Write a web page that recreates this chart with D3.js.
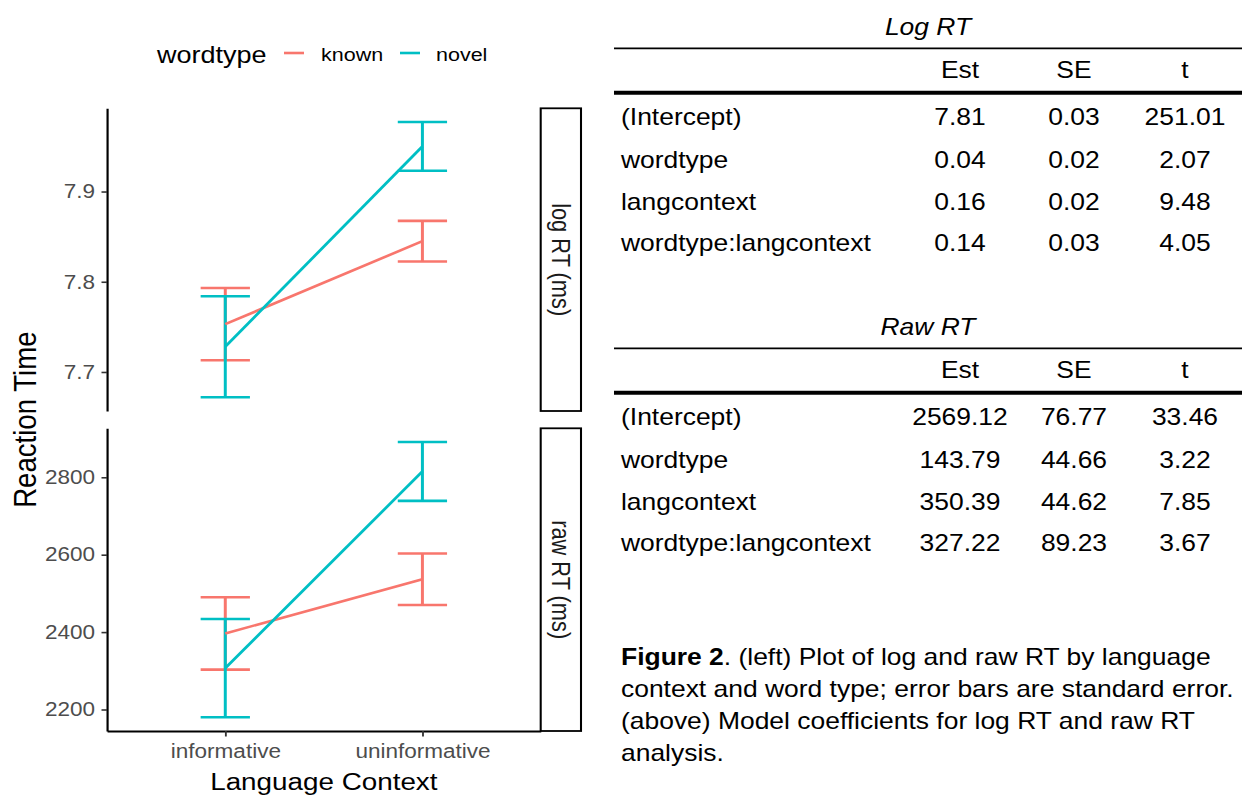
<!DOCTYPE html>
<html>
<head>
<style>
  body { margin: 0; background: #fff; }
  svg text { font-family: "Liberation Sans", Arial, sans-serif; }
</style>
</head>
<body>
<svg width="1242" height="797"></svg>
<script src="https://d3js.org/d3.v7.min.js"></script>
<script>
// ---- data ----
var contexts = ["informative", "uninformative"];
var wordtypes = ["known", "novel"];
var colors = ["#F8766D", "#00BFC4"];

var logKnownMean = [7.753, 7.845];
var logKnownSE   = [0.040, 0.0225];
var logNovelMean = [7.728, 7.950];
var logNovelSE   = [0.056, 0.027];
var logTicks = [7.7, 7.8, 7.9];

var rawKnownMean = [2396.5, 2536.5];
var rawKnownSE   = [93.5, 66.5];
var rawNovelMean = [2307, 2815];
var rawNovelSE   = [127, 76];
var rawTicks = [2200, 2400, 2600, 2800];

var tableCols = ["Est", "SE", "t"];
var rowNames = ["(Intercept)", "wordtype", "langcontext", "wordtype:langcontext"];
var logEst = ["7.81", "0.04", "0.16", "0.14"];
var logSE  = ["0.03", "0.02", "0.02", "0.03"];
var logT   = ["251.01", "2.07", "9.48", "4.05"];
var rawEst = ["2569.12", "143.79", "350.39", "327.22"];
var rawSE  = ["76.77", "44.66", "44.62", "89.23"];
var rawT   = ["33.46", "3.22", "7.85", "3.67"];

var captionLines = [
  "context and word type; error bars are standard error.",
  "(above) Model coefficients for log RT and raw RT",
  "analysis."
];

// the figure is a bit wider than it is tall, so everything is drawn squeezed and stretched back
var SX = 1.15;
function X(v) { return v / SX; }

var svg = d3.select("svg");
var root = svg.append("g").attr("transform", "scale(" + SX + ",1)");

var left = 107, right = 540.7, stripR = 581;
var panels = [
  { top: 108.3, bottom: 411, label: "log RT (ms)", ticks: logTicks, fmt: d3.format(".1f"),
    series: [[logKnownMean, logKnownSE], [logNovelMean, logNovelSE]] },
  { top: 428.3, bottom: 731, label: "raw RT (ms)", ticks: rawTicks, fmt: d3.format("d"),
    series: [[rawKnownMean, rawKnownSE], [rawNovelMean, rawNovelSE]] }
];

var x = d3.scalePoint().domain(contexts).range([X(left), X(right)]).padding(0.6);
var ebHalf = x.step() * 0.125;

panels.forEach(function(p, pi) {
  var lo = d3.min(p.series, function(s) { return d3.min(s[0], function(m, i) { return m - s[1][i]; }); });
  var hi = d3.max(p.series, function(s) { return d3.max(s[0], function(m, i) { return m + s[1][i]; }); });
  var pad = (hi - lo) * 0.05;
  var y = d3.scaleLinear().domain([lo - pad, hi + pad]).range([p.bottom, p.top]);

  var g = root.append("g");

  // y axis
  var ya = g.append("g")
    .attr("transform", "translate(" + X(left) + ",0)")
    .call(d3.axisLeft(y).tickValues(p.ticks).tickFormat(p.fmt)
      .tickSize(X(5.5)).tickSizeOuter(0).tickPadding(X(6.5)));
  ya.select(".domain").attr("stroke", "#000").attr("stroke-width", 1.9);
  ya.selectAll(".tick line").attr("stroke", "#333").attr("stroke-width", 1.6);
  ya.selectAll(".tick text").attr("fill", "#4D4D4D").style("font-size", "19.6px")
    .style("font-family", "'Liberation Sans', Arial, sans-serif");

  // error bars + lines
  p.series.forEach(function(s, si) {
    var c = colors[si];
    var pts = contexts.map(function(ctx, i) { return { ctx: ctx, m: s[0][i], se: s[1][i] }; });
    var eb = g.append("g").attr("stroke", c).attr("stroke-width", 2.6).attr("fill", "none");
    pts.forEach(function(d) {
      eb.append("line").attr("x1", x(d.ctx)).attr("x2", x(d.ctx))
        .attr("y1", y(d.m - d.se)).attr("y2", y(d.m + d.se));
      [d.m - d.se, d.m + d.se].forEach(function(v) {
        eb.append("line").attr("x1", x(d.ctx) - ebHalf).attr("x2", x(d.ctx) + ebHalf)
          .attr("y1", y(v)).attr("y2", y(v));
      });
    });
  });
  p.series.forEach(function(s, si) {
    g.append("path")
      .datum(contexts.map(function(ctx, i) { return [x(ctx), y(s[0][i])]; }))
      .attr("d", d3.line())
      .attr("stroke", colors[si]).attr("stroke-width", 2.6).attr("fill", "none");
  });

  // strip
  g.append("rect")
    .attr("x", X(right)).attr("y", p.top)
    .attr("width", X(stripR) - X(right)).attr("height", p.bottom - p.top)
    .attr("fill", "#fff").attr("stroke", "#000").attr("stroke-width", 1.8);
  g.append("text")
    .attr("transform", "translate(" + X((right + stripR) / 2) + "," + (p.top + p.bottom) / 2 + ") rotate(90)")
    .attr("text-anchor", "middle").attr("dy", "0.35em")
    .style("font-size", "21.8px").attr("fill", "#1A1A1A")
    .text(p.label);

  // x axis under the lower panel
  if (pi === panels.length - 1) {
    var xa = g.append("g")
      .attr("transform", "translate(0," + p.bottom + ")")
      .call(d3.axisBottom(x).tickSize(5.5).tickSizeOuter(0).tickPadding(8));
    xa.select(".domain").attr("stroke", "#000").attr("stroke-width", 1.9);
    xa.selectAll(".tick line").attr("stroke", "#333").attr("stroke-width", 1.6);
    xa.selectAll(".tick text").attr("fill", "#4D4D4D").style("font-size", "19.6px")
      .style("font-family", "'Liberation Sans', Arial, sans-serif");
  }
});

// axis titles
root.append("text")
  .attr("x", X((left + right) / 2)).attr("y", 782).attr("dy", "0.35em")
  .attr("text-anchor", "middle").style("font-size", "24.2px")
  .text("Language Context");
root.append("text")
  .attr("transform", "translate(" + X(25) + "," + (108.3 + 731) / 2 + ") rotate(-90)")
  .attr("text-anchor", "middle").attr("dy", "0.35em").style("font-size", "27.6px")
  .text("Reaction Time");

// legend
var lg = root.append("g");
lg.append("text").attr("x", X(157)).attr("y", 55).attr("dy", "0.35em")
  .style("font-size", "23.5px").text("wordtype");
var keyX = [284, 400], labX = [321, 436];
wordtypes.forEach(function(w, i) {
  lg.append("line").attr("x1", X(keyX[i])).attr("x2", X(keyX[i] + 20))
    .attr("y1", 53).attr("y2", 53).attr("stroke", colors[i]).attr("stroke-width", 2.6);
  lg.append("text").attr("x", X(labX[i])).attr("y", 55).attr("dy", "0.3em")
    .style("font-size", "18.7px").text(w);
});

// coefficient tables
var colX = [960, 1074, 1185];
function drawTable(title, est, se, t, off) {
  var tg = root.append("g").attr("transform", "translate(0," + off + ")");
  tg.append("text").attr("x", X(928)).attr("y", 27).attr("dy", "0.35em")
    .attr("text-anchor", "middle").style("font-size", "23px").style("font-style", "italic")
    .text(title);
  tg.append("line").attr("x1", X(614)).attr("x2", X(1242)).attr("y1", 48.3).attr("y2", 48.3)
    .attr("stroke", "#000").attr("stroke-width", 1.8);
  tg.append("line").attr("x1", X(614)).attr("x2", X(1242)).attr("y1", 92.7).attr("y2", 92.7)
    .attr("stroke", "#000").attr("stroke-width", 4);
  tableCols.forEach(function(c, j) {
    tg.append("text").attr("x", X(colX[j])).attr("y", 70).attr("dy", "0.35em")
      .attr("text-anchor", "middle").style("font-size", "23px").text(c);
  });
  var rowY = [116.7, 160, 201.7, 243.3];
  rowNames.forEach(function(r, i) {
    tg.append("text").attr("x", X(621)).attr("y", rowY[i]).attr("dy", "0.35em")
      .style("font-size", "23px").text(r);
    [est, se, t].forEach(function(col, j) {
      tg.append("text").attr("x", X(colX[j])).attr("y", rowY[i]).attr("dy", "0.35em")
        .attr("text-anchor", "middle").style("font-size", "23px").text(col[i]);
    });
  });
}
drawTable("Log RT", logEst, logSE, logT, 0);
drawTable("Raw RT", rawEst, rawSE, rawT, 300);

// caption
var cap = root.append("text").style("font-size", "23px");
var first = cap.append("tspan").attr("x", X(621)).attr("y", 657).attr("dy", "0.35em");
first.append("tspan").style("font-weight", "bold").text("Figure 2");
first.append("tspan").text(". (left) Plot of log and raw RT by language");
captionLines.forEach(function(l, i) {
  cap.append("tspan").attr("x", X(621)).attr("y", 689 + i * 32).attr("dy", "0.35em").text(l);
});
</script>
</body>
</html>
